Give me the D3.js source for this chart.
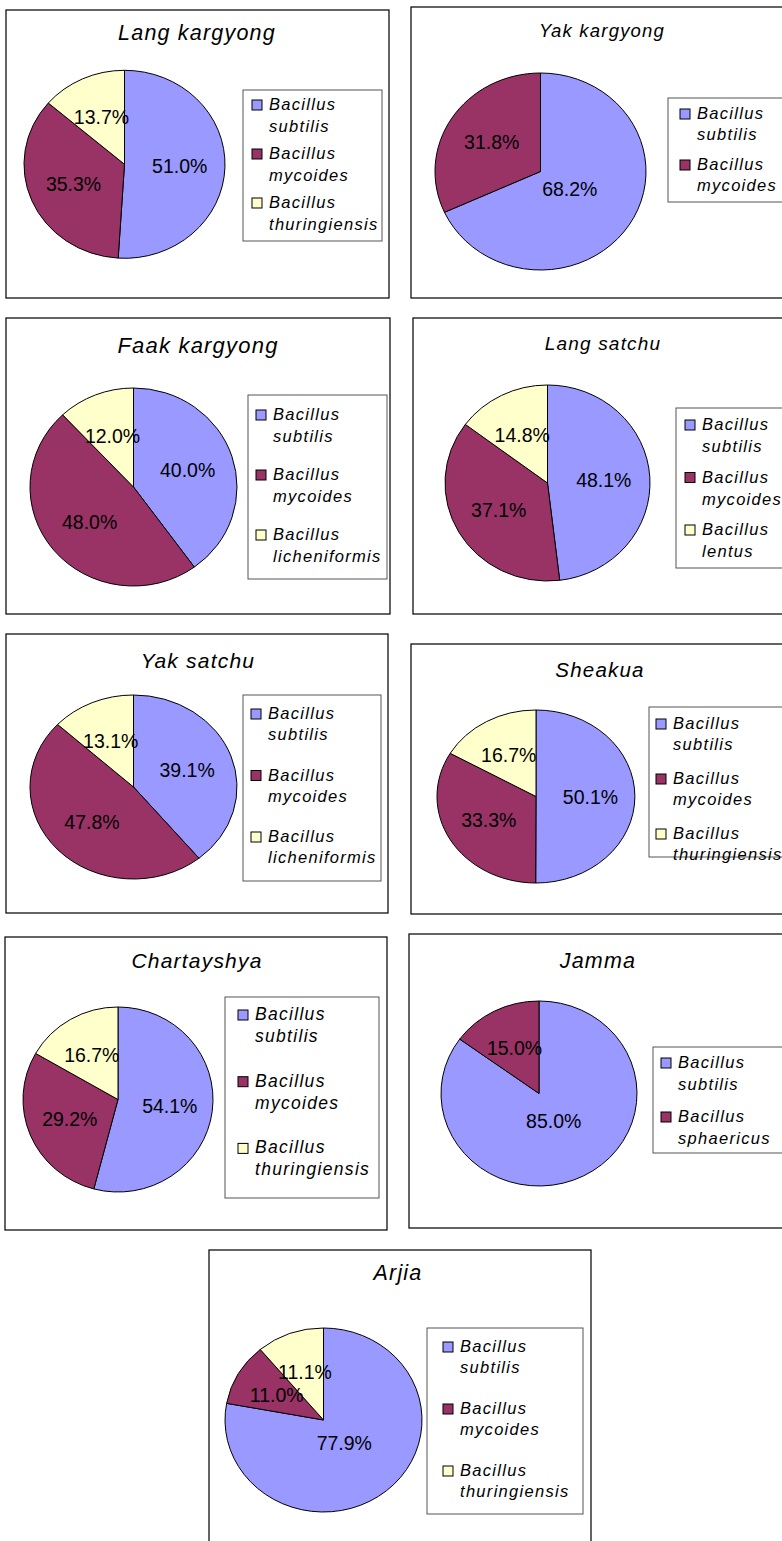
<!DOCTYPE html>
<html>
<head>
<meta charset="utf-8">
<script src="https://cdn.jsdelivr.net/npm/d3@7"></script>
<style>
  body { margin: 0; background: #fff; }
  svg { display: block; }
  text { font-family: "Liberation Sans", Arial, sans-serif; fill: #000; }
</style>
</head>
<body>
<svg id="chart"></svg>
<script>
const W = 782, H = 1541;

// data
const sites = ["Lang kargyong", "Yak kargyong", "Faak kargyong", "Lang satchu", "Yak satchu",
               "Sheakua", "Chartayshya", "Jamma", "Arjia"];
const species = [
    ["Bacillus subtilis", "Bacillus mycoides", "Bacillus thuringiensis"],
    ["Bacillus subtilis", "Bacillus mycoides"],
    ["Bacillus subtilis", "Bacillus mycoides", "Bacillus licheniformis"],
    ["Bacillus subtilis", "Bacillus mycoides", "Bacillus lentus"],
    ["Bacillus subtilis", "Bacillus mycoides", "Bacillus licheniformis"],
    ["Bacillus subtilis", "Bacillus mycoides", "Bacillus thuringiensis"],
    ["Bacillus subtilis", "Bacillus mycoides", "Bacillus thuringiensis"],
    ["Bacillus subtilis", "Bacillus sphaericus"],
    ["Bacillus subtilis", "Bacillus mycoides", "Bacillus thuringiensis"]
];
const shares = [
    [51.0, 35.3, 13.7],
    [68.2, 31.8],
    [40.0, 48.0, 12.0],
    [48.1, 37.1, 14.8],
    [39.1, 47.8, 13.1],
    [50.1, 33.3, 16.7],
    [54.1, 29.2, 16.7],
    [85.0, 15.0],
    [77.9, 11.0, 11.1]
];
const sliceColors = ["#9999FF", "#993366", "#FFFFCC"];

// layout of each panel (box, title x/y/size, pie ellipse, legend box)
const panels = [
    {box: [6, 10, 389, 298],    title: [197, 40, 21.5], pie: [124.5, 164.3, 100.5, 94],  leg: [243, 90, 382, 241],   lx: 26, first: 20, gap: 22, step: 49, lfs: 16.5},
    {box: [411, 7, 792, 298],   title: [602, 37, 18.5], pie: [540.5, 171.5, 105.5, 98.5], leg: [668, 98, 792, 202],  lx: 29, first: 21, gap: 21, step: 51, lfs: 16.5},
    {box: [6, 318, 390, 614],   title: [198, 353, 22],  pie: [133.5, 487, 103.5, 99],    leg: [248, 395, 387, 579],  lx: 25, first: 25, gap: 21.5, step: 60, lfs: 16.5},
    {box: [413, 318, 792, 614], title: [603, 350, 19],  pie: [547.5, 483, 102.5, 98],    leg: [676, 408, 792, 568],  lx: 26, first: 22, gap: 22, step: 52.5, lfs: 16.5},
    {box: [6, 634, 388, 913],   title: [198, 668, 21],  pie: [133.5, 787, 103.5, 92],    leg: [243, 695, 381, 881],  lx: 25, first: 24, gap: 21, step: 61.5, lfs: 16.5},
    {box: [411, 644, 792, 914], title: [600, 677, 20.5], pie: [536, 796.5, 99, 86.5],    leg: [649, 707, 792, 857],  lx: 24, first: 22, gap: 21, step: 55, lfs: 16.5},
    {box: [5, 937, 387, 1230],  title: [197, 968, 21],  pie: [118, 1099.5, 95, 92.5],    leg: [225, 997, 379, 1198], lx: 30, first: 23, gap: 22, step: 66.7, lfs: 17.5},
    {box: [409, 934, 792, 1228], title: [598, 968, 21.5], pie: [539, 1093.5, 98, 92.5],  leg: [653, 1047, 792, 1153], lx: 25, first: 21, gap: 22, step: 54, lfs: 16.5},
    {box: [209, 1250, 591, 1560], title: [398, 1280, 21.5], pie: [323.5, 1420, 98.5, 92], leg: [427, 1328, 583, 1514], lx: 33, first: 24, gap: 21, step: 62, lfs: 16.5}
];

const svg = d3.select("#chart")
    .attr("width", W)
    .attr("height", H)
    .attr("viewBox", `0 0 ${W} ${H}`);

const pie = d3.pie().sort(null).value(d => d);

panels.forEach((p, i) => {
    const g = svg.append("g");

    // outer frame
    g.append("rect")
        .attr("x", p.box[0]).attr("y", p.box[1])
        .attr("width", p.box[2] - p.box[0]).attr("height", p.box[3] - p.box[1])
        .attr("fill", "#fff")
        .attr("stroke", "#111")
        .attr("stroke-width", 1.3);

    g.append("text")
        .attr("x", p.title[0]).attr("y", p.title[1])
        .attr("text-anchor", "middle")
        .attr("font-size", p.title[2])
        .attr("font-style", "italic")
        .attr("letter-spacing", 1.2)
        .text(sites[i]);

    // pie, drawn on a circle of radius ry and stretched to rx
    const [cx, cy, rx, ry] = p.pie;
    const arc = d3.arc().innerRadius(0).outerRadius(ry);
    const arcs = pie(shares[i]);

    const pg = g.append("g")
        .attr("transform", `translate(${cx},${cy}) scale(${rx / ry},1)`);

    pg.selectAll("path")
        .data(arcs)
        .enter()
        .append("path")
        .attr("d", arc)
        .attr("fill", (d, j) => sliceColors[j])
        .attr("stroke", "#000")
        .attr("stroke-width", 1)
        .attr("vector-effect", "non-scaling-stroke");

    // big slices get their label pulled toward the centre, like the original
    const labelPos = d => {
        const f = (d.data > 60) ? 0.33 : 0.55;
        const c = d3.arc().innerRadius(ry * f).outerRadius(ry * f).centroid(d);
        return [cx + c[0] * rx / ry, cy + c[1]];
    };

    g.selectAll("text.lbl")
        .data(arcs)
        .enter()
        .append("text")
        .attr("class", "lbl")
        .attr("x", d => labelPos(d)[0])
        .attr("y", d => labelPos(d)[1])
        .attr("text-anchor", "middle")
        .attr("dominant-baseline", "central")
        .attr("font-size", 19.5)
        .text(d => d.data.toFixed(1) + "%");

    // legend
    const [lx0, ly0, lx1, ly1] = p.leg;
    g.append("rect")
        .attr("x", lx0).attr("y", ly0)
        .attr("width", lx1 - lx0).attr("height", ly1 - ly0)
        .attr("fill", "#fff")
        .attr("stroke", "#555")
        .attr("stroke-width", 1);

    const items = g.selectAll("g.item")
        .data(species[i])
        .enter()
        .append("g")
        .attr("class", "item")
        .attr("transform", (d, j) => `translate(${lx0 + p.lx},${ly0 + p.first + j * p.step})`);

    items.append("rect")
        .attr("x", -17).attr("y", -10)
        .attr("width", 10).attr("height", 10)
        .attr("fill", (d, j) => sliceColors[j])
        .attr("stroke", "#000")
        .attr("stroke-width", 1);

    items.append("text")
        .attr("font-size", p.lfs)
        .attr("font-style", "italic")
        .attr("letter-spacing", 1.3)
        .text(d => d.split(" ")[0]);

    items.append("text")
        .attr("y", p.gap)
        .attr("font-size", p.lfs)
        .attr("font-style", "italic")
        .attr("letter-spacing", 1.3)
        .text(d => d.split(" ")[1]);
});
</script>
</body>
</html>
